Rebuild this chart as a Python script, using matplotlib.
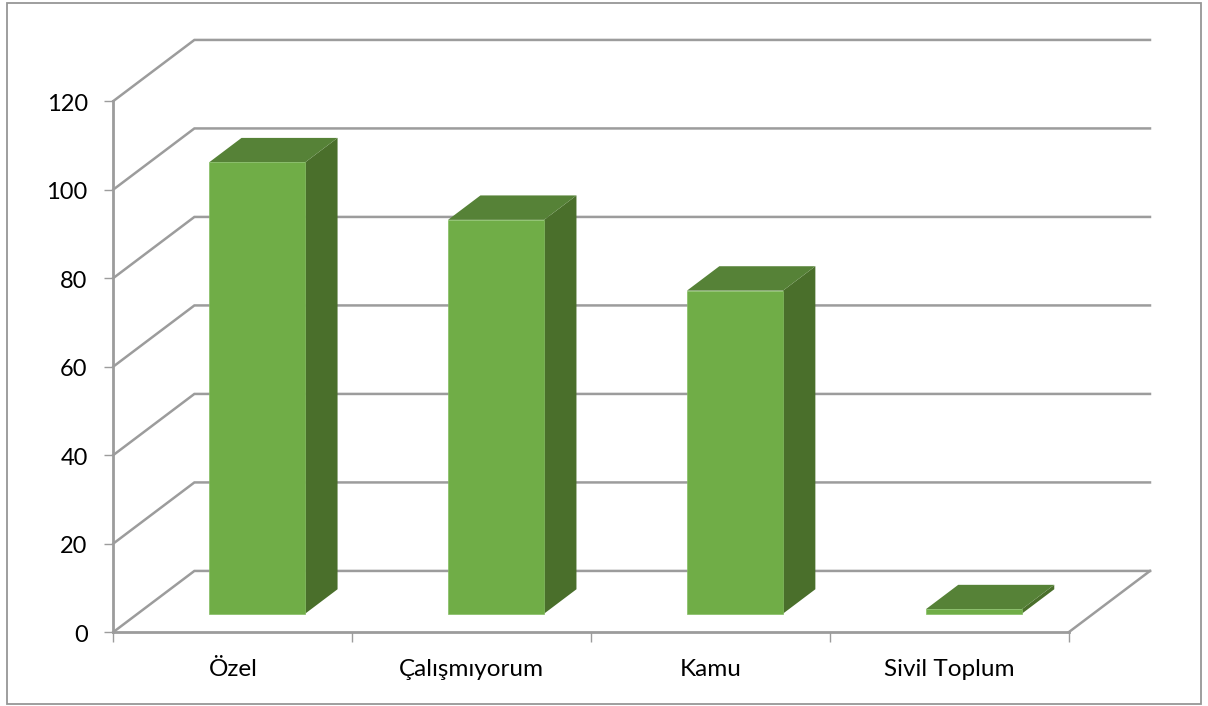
import matplotlib
matplotlib.use("Agg")
import matplotlib.pyplot as plt
from matplotlib.patches import Rectangle
from matplotlib.transforms import ScaledTranslation

plt.rcParams["font.family"] = ["Lato", "DejaVu Sans"]

categories = ["Özel", "Çalışmıyorum", "Kamu", "Sivil Toplum"]
values = [102, 89, 73, 1]
y_ticks = [0, 20, 40, 60, 80, 100, 120]

GRID = "#9c9c9c"
FRONT = "#70ad47"
TOP = "#568237"
SIDE = "#4a6f2b"

# fake 3d: how far the back wall is shifted, in data units
DEPTH_X = 0.339
DEPTH_Y = 13.8
BAR_W = 0.402
# bar sits between these fractions of the floor depth
D_FRONT = 0.3
D_BACK = 0.7

fig = plt.figure(figsize=(12.08, 7.06), dpi=100)
ax = fig.add_axes([113.4 / 1208, 74 / 706, 955.6 / 1208, 531 / 706])
ax.set_xlim(0, len(categories))
ax.set_ylim(0, y_ticks[-1])

# outer chart border
fig.patches.append(Rectangle((7 / 1208, 2 / 706), 1194 / 1208, 701 / 706,
                             transform=fig.transFigure, fill=False,
                             edgecolor="#969696", linewidth=1.3))

for s in ["top", "right"]:
    ax.spines[s].set_visible(False)
for s in ["left", "bottom"]:
    ax.spines[s].set_color(GRID)
    ax.spines[s].set_linewidth(2)

ax.set_yticks(y_ticks)
ax.set_xticks(range(len(categories) + 1))
ax.set_xticklabels([])
ax.set_xticks([i + 0.5 for i in range(len(categories))], minor=True)
ax.set_xticklabels(categories, minor=True)
ax.tick_params(axis="y", length=6.5, width=1, color=GRID, labelsize=17, pad=12)
ax.tick_params(axis="x", which="major", length=7, width=1, color=GRID)
ax.tick_params(axis="x", which="minor", length=0, labelsize=17.5, pad=19.5)
# nudge the y labels down a touch
for label in ax.get_yticklabels():
    label.set_transform(label.get_transform() + ScaledTranslation(0, -0.012, fig.dpi_scale_trans))

# walls and floor
n = len(categories)
for v in y_ticks:
    ax.plot([0, DEPTH_X, n + DEPTH_X], [v, v + DEPTH_Y, v + DEPTH_Y],
            color=GRID, lw=1.8, clip_on=False, zorder=1,
            solid_joinstyle="miter")
ax.plot([n, n + DEPTH_X], [0, DEPTH_Y], color=GRID, lw=1.8, clip_on=False, zorder=1)

for i, v in enumerate(values):
    x0 = i + 0.5 - BAR_W / 2 + D_FRONT * DEPTH_X
    x1 = x0 + BAR_W
    y0 = D_FRONT * DEPTH_Y
    y1 = y0 + v
    dx = (D_BACK - D_FRONT) * DEPTH_X
    dy = (D_BACK - D_FRONT) * DEPTH_Y
    ax.fill([x1, x1 + dx, x1 + dx, x1], [y0, y0 + dy, y1 + dy, y1],
            color=SIDE, lw=0, clip_on=False, zorder=3)
    ax.fill([x0, x1, x1 + dx, x0 + dx], [y1, y1, y1 + dy, y1 + dy],
            color=TOP, lw=0, clip_on=False, zorder=3)
    ax.fill([x0, x1, x1, x0], [y0, y0, y1, y1], facecolor=FRONT,
            edgecolor="#84bd62", lw=0.5, clip_on=False, zorder=4)

fig.savefig("out.png", dpi=100)
